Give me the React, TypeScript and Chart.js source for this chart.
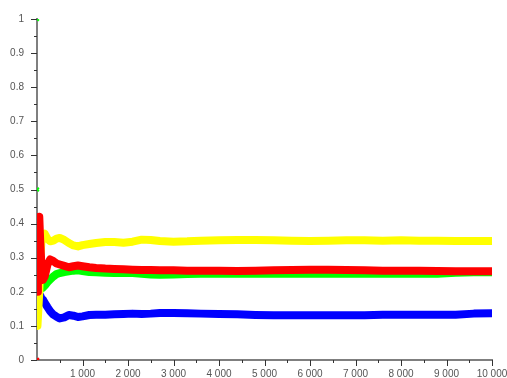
import React, { useEffect, useRef } from "react";
import { Chart, registerables } from "chart.js";

Chart.register(...registerables);

const sampleCounts = [1, 2, 10, 20, 30, 50, 70, 100, 130, 170, 230, 290, 360, 430, 500, 600, 700, 800, 900, 1000, 1150, 1300, 1500, 1700, 1900, 2100, 2300, 2500, 2700, 3000, 3300, 3600, 4000, 4400, 4800, 5200, 5600, 6000, 6400, 6800, 7200, 7600, 8000, 8400, 8800, 9200, 9600, 10000];

const yellowFreq = [0, 0, 0.1, 0.1, 0.15, 0.2, 0.3, 0.35, 0.365, 0.37, 0.355, 0.348, 0.35, 0.356, 0.358, 0.352, 0.343, 0.336, 0.333, 0.337, 0.34, 0.343, 0.346, 0.346, 0.344, 0.347, 0.353, 0.352, 0.349, 0.347, 0.348, 0.35, 0.351, 0.352, 0.352, 0.351, 0.35, 0.349, 0.35, 0.351, 0.351, 0.35, 0.351, 0.35, 0.35, 0.349, 0.349, 0.349];

const redFreq = [0, 0, 0.2, 0.3, 0.4, 0.42, 0.35, 0.27, 0.235, 0.245, 0.28, 0.295, 0.29, 0.283, 0.28, 0.276, 0.272, 0.275, 0.277, 0.275, 0.272, 0.27, 0.268, 0.267, 0.266, 0.265, 0.264, 0.264, 0.263, 0.263, 0.262, 0.262, 0.262, 0.261, 0.262, 0.263, 0.264, 0.265, 0.265, 0.264, 0.263, 0.262, 0.262, 0.262, 0.261, 0.26, 0.26, 0.26];

const greenFreq = [1, 0.5, 0.2, 0.25, 0.22, 0.2, 0.21, 0.215, 0.212, 0.218, 0.228, 0.236, 0.245, 0.252, 0.255, 0.258, 0.26, 0.262, 0.263, 0.261, 0.258, 0.257, 0.256, 0.255, 0.255, 0.255, 0.253, 0.251, 0.25, 0.251, 0.252, 0.253, 0.253, 0.253, 0.253, 0.253, 0.253, 0.253, 0.253, 0.253, 0.253, 0.253, 0.253, 0.253, 0.253, 0.256, 0.257, 0.257];

const blueFreq = [0, 0, 0.2, 0.15, 0.18, 0.19, 0.19, 0.18, 0.177, 0.168, 0.155, 0.143, 0.133, 0.127, 0.122, 0.125, 0.132, 0.13, 0.126, 0.128, 0.132, 0.133, 0.133, 0.134, 0.135, 0.136, 0.135, 0.136, 0.138, 0.138, 0.137, 0.136, 0.135, 0.134, 0.132, 0.131, 0.131, 0.131, 0.131, 0.131, 0.131, 0.133, 0.133, 0.133, 0.133, 0.133, 0.136, 0.137];

const xMajorTicks = [1000, 2000, 3000, 4000, 5000, 6000, 7000, 8000, 9000, 10000];
const yMajorTicks = [0, 0.1, 0.2, 0.3, 0.4, 0.5, 0.6, 0.7, 0.8, 0.9, 1];

const toPoints = (vals: number[]) => vals.map((v, i) => ({ x: sampleCounts[i], y: v }));

const fmtThousands = (v: number) =>
  Math.round(v).toString().replace(/\B(?=(\d{3})+(?!\d))/g, " ");

const tickPlugin = {
  id: "minorMajorTicks",
  afterDraw(chart: any) {
    const ctx = chart.ctx;
    const xs = chart.scales.x;
    const ys = chart.scales.y;
    const left = chart.chartArea.left;
    const bottom = chart.chartArea.bottom;
    ctx.save();
    ctx.strokeStyle = "#333333";
    ctx.lineWidth = 1;
    ctx.beginPath();
    for (let i = 0; i < yMajorTicks.length; i++) {
      const v = yMajorTicks[i];
      const py = Math.round(ys.getPixelForValue(v)) + 0.5;
      ctx.moveTo(left - 6, py);
      ctx.lineTo(left, py);
      if (i < yMajorTicks.length - 1) {
        const mv = (v + yMajorTicks[i + 1]) / 2;
        const mpy = Math.round(ys.getPixelForValue(mv)) + 0.5;
        ctx.moveTo(left - 3, mpy);
        ctx.lineTo(left, mpy);
      }
    }
    let prev = 0;
    for (let i = 0; i < xMajorTicks.length; i++) {
      const v = xMajorTicks[i];
      const px = Math.round(xs.getPixelForValue(v)) + 0.5;
      ctx.moveTo(px, bottom);
      ctx.lineTo(px, bottom + 6);
      const mv = (prev + v) / 2;
      const mpx = Math.round(xs.getPixelForValue(mv)) + 0.5;
      ctx.moveTo(mpx, bottom);
      ctx.lineTo(mpx, bottom + 3);
      prev = v;
    }
    ctx.stroke();
    ctx.restore();
  },
};

const makeDataset = (label: string, vals: number[], color: string, order: number, showStart: boolean) => ({
  label,
  data: toPoints(vals),
  borderColor: color,
  backgroundColor: color,
  borderWidth: 8,
  borderJoinStyle: "round" as const,
  borderCapStyle: "round" as const,
  tension: 0,
  order,
  pointStyle: "crossRot" as const,
  pointBorderWidth: 2,
  pointBorderColor: color,
  pointRadius: (c: any) => (showStart && c.dataIndex < 2 ? 2.5 : 0),
  pointHoverRadius: 0,
  segment: {
    borderColor: (c: any) => (c.p0DataIndex < 2 ? "rgba(0,0,0,0)" : undefined),
  },
});

export default function App() {
  const canvasRef = useRef<HTMLCanvasElement | null>(null);

  useEffect(() => {
    if (!canvasRef.current) return;
    const chart = new Chart(canvasRef.current, {
      type: "line",
      data: {
        datasets: [
          makeDataset("red", redFreq, "#ff0000", 0, true),
          makeDataset("yellow", yellowFreq, "#ffff00", 1, false),
          makeDataset("blue", blueFreq, "#0000ff", 2, false),
          makeDataset("green", greenFreq, "#00ff00", 3, true),
        ],
      },
      options: {
        animation: false,
        responsive: false,
        maintainAspectRatio: false,
        events: [],
        layout: { padding: { top: 19, right: 15, left: 0, bottom: 0 } },
        plugins: {
          legend: { display: false },
          tooltip: { enabled: false },
          title: { display: false },
        },
        scales: {
          x: {
            type: "linear",
            min: 0,
            max: 10000,
            afterFit: (s: any) => {
              s.height = 18;
              s.paddingLeft = 0;
              s.paddingRight = 0;
            },
            afterBuildTicks: (s: any) => {
              s.ticks = xMajorTicks.map((v) => ({ value: v }));
            },
            grid: { display: false, drawTicks: false, tickLength: 0 },
            border: { display: true, color: "#7f7f7f", width: 2 },
            ticks: {
              autoSkip: false,
              maxRotation: 0,
              padding: 8,
              color: "#555555",
              font: { family: "'Liberation Sans', Arial, sans-serif", size: 10 },
              callback: (v: any) => (v === 0 ? "" : fmtThousands(Number(v))),
            },
          },
          y: {
            type: "linear",
            min: 0,
            max: 1,
            afterFit: (s: any) => {
              s.width = 37;
              s.paddingTop = 0;
              s.paddingBottom = 0;
            },
            afterBuildTicks: (s: any) => {
              s.ticks = yMajorTicks.map((v) => ({ value: v }));
            },
            grid: { display: false, drawTicks: false, tickLength: 0 },
            border: { display: true, color: "#7f7f7f", width: 2 },
            ticks: {
              autoSkip: false,
              padding: 13,
              color: "#555555",
              font: { family: "'Liberation Sans', Arial, sans-serif", size: 10 },
              callback: (v: any) => String(Number(Number(v).toFixed(1))),
            },
          },
        },
      },
      plugins: [tickPlugin],
    });
    return () => chart.destroy();
  }, []);

  return (
    <div style={{ position: "absolute", left: 0, top: 0, width: 507, height: 378, background: "#ffffff" }}>
      <canvas ref={canvasRef} width={507} height={378} style={{ display: "block", width: 507, height: 378 }} />
    </div>
  );
}
